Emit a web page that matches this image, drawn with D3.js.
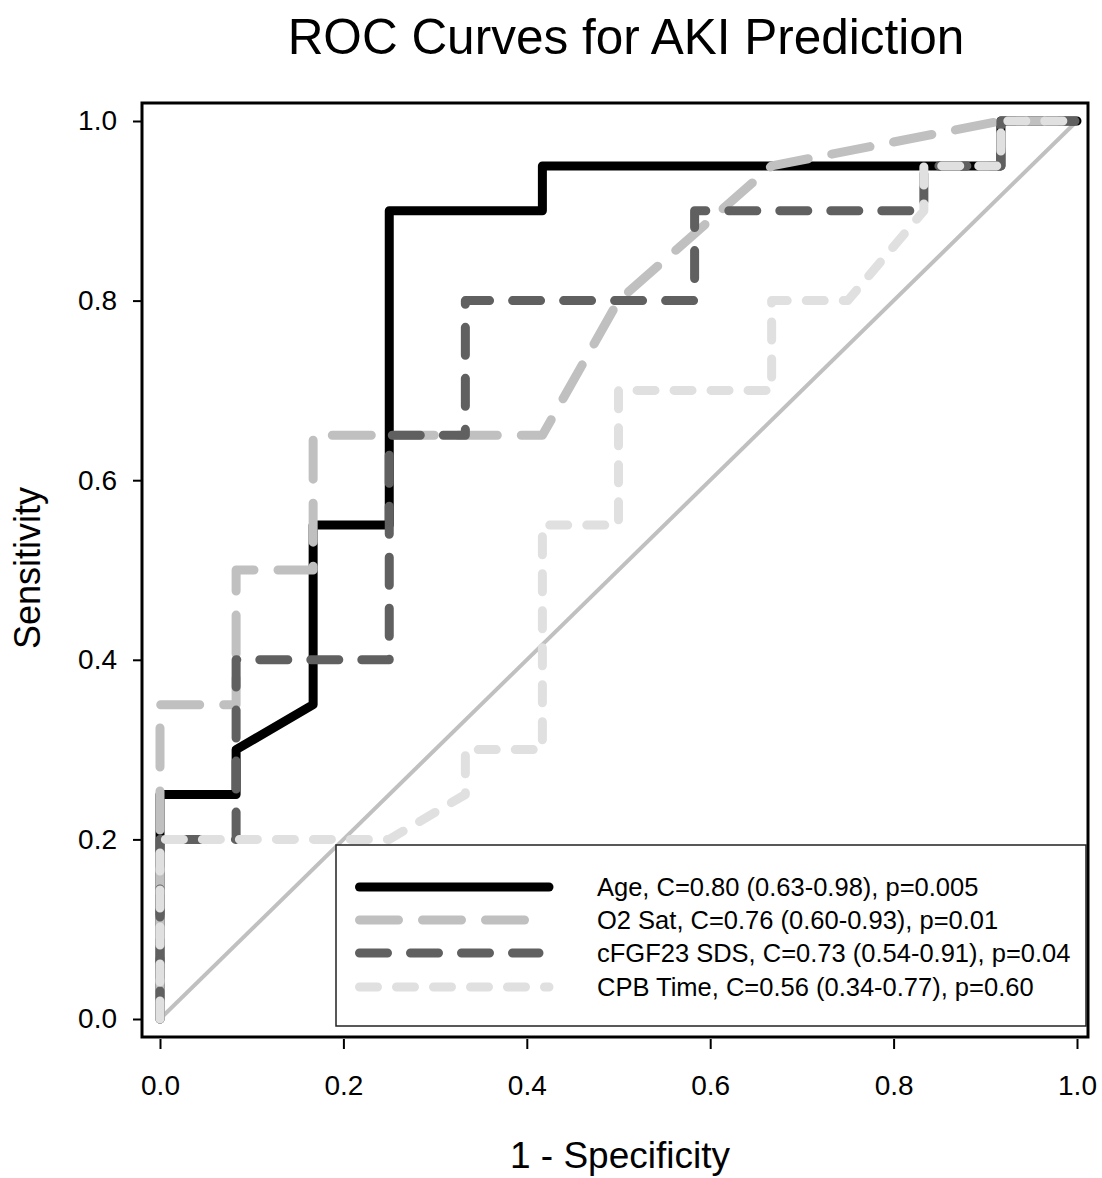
<!DOCTYPE html>
<html>
<head>
<meta charset="utf-8">
<script src="https://cdn.jsdelivr.net/npm/d3@7"></script>
<style>
  body { margin: 0; background: #fff; }
  svg text { font-family: Arial, "Liberation Sans", sans-serif; fill: #000; }
</style>
</head>
<body>
<script>
// ROC points, [1 - specificity, sensitivity]
const ageCurve = [[0, 0], [0, 0.25], [0.083, 0.25], [0.083, 0.3], [0.167, 0.35], [0.167, 0.55],
  [0.25, 0.55], [0.25, 0.9], [0.417, 0.9], [0.417, 0.95], [0.917, 0.95], [0.917, 1], [1, 1]];
const o2Curve = [[0, 0], [0, 0.35], [0.083, 0.35], [0.083, 0.5], [0.167, 0.5], [0.167, 0.65],
  [0.417, 0.65], [0.5, 0.8], [0.667, 0.95], [0.917, 1], [1, 1]];
const fgfCurve = [[0, 0], [0, 0.2], [0.083, 0.2], [0.083, 0.4], [0.25, 0.4], [0.25, 0.65],
  [0.333, 0.65], [0.333, 0.8], [0.583, 0.8], [0.583, 0.9], [0.833, 0.9], [0.833, 0.95],
  [0.917, 0.95], [0.917, 1], [1, 1]];
const cpbCurve = [[0, 0], [0, 0.2], [0.25, 0.2], [0.333, 0.25], [0.333, 0.3], [0.417, 0.3],
  [0.417, 0.55], [0.5, 0.55], [0.5, 0.7], [0.667, 0.7], [0.667, 0.8], [0.75, 0.8],
  [0.833, 0.9], [0.833, 0.95], [0.917, 0.95], [0.917, 1], [1, 1]];
const diagonal = [[0, 0], [1, 1]];

const seriesLabels = [
  'Age, C=0.80 (0.63-0.98), p=0.005',
  'O2 Sat, C=0.76 (0.60-0.93), p=0.01',
  'cFGF23 SDS, C=0.73 (0.54-0.91), p=0.04',
  'CPB Time, C=0.56 (0.34-0.77), p=0.60'
];
const tickValues = [0, 0.2, 0.4, 0.6, 0.8, 1.0];

const w = 1102;
const h = 1178;

// Line styles: colour, dash pattern, legend sample end
const styles = [
  { color: '#000000', dash: null, end: 549 },
  { color: '#c0c0c0', dash: '39,24', end: 526 },
  { color: '#606060', dash: '28,23', end: 539 },
  { color: '#e0e0e0', dash: '18,19', end: 549 }
];
const curves = [ageCurve, o2Curve, fgfCurve, cpbCurve];

const xScale = d3.scaleLinear().domain([0, 1]).range([160, 1077]);
const yScale = d3.scaleLinear().domain([0, 1]).range([1019, 121]);

const svg = d3.select('body').append('svg')
  .attr('width', w)
  .attr('height', h);

// Title
svg.append('text')
  .attr('x', 626)
  .attr('y', 54)
  .attr('text-anchor', 'middle')
  .style('font-size', '49.5px')
  .text('ROC Curves for AKI Prediction');

// Frame
svg.append('rect')
  .attr('x', 142)
  .attr('y', 103)
  .attr('width', 946)
  .attr('height', 934)
  .attr('fill', 'none')
  .attr('stroke', '#000')
  .attr('stroke-width', 3);

const fmt = d3.format('.1f');

const yAxis = d3.axisLeft(yScale)
  .tickValues(tickValues)
  .tickFormat(fmt)
  .tickSizeInner(9)
  .tickSizeOuter(0)
  .tickPadding(16);

const xAxis = d3.axisBottom(xScale)
  .tickValues(tickValues)
  .tickFormat(fmt)
  .tickSizeInner(10)
  .tickSizeOuter(0)
  .tickPadding(26);

const gy = svg.append('g')
  .attr('transform', 'translate(142,0)')
  .call(yAxis);
const gx = svg.append('g')
  .attr('transform', 'translate(0,1039)')
  .call(xAxis);

[gx, gy].forEach(g => {
  g.select('.domain').remove();
  g.selectAll('.tick line').attr('stroke', '#000').attr('stroke-width', 2);
  g.selectAll('.tick text')
    .style('font-size', '28px')
    .style('font-family', 'Arial, "Liberation Sans", sans-serif')
    .attr('fill', '#000');
});

// Axis titles
svg.append('text')
  .attr('x', 620)
  .attr('y', 1168)
  .attr('text-anchor', 'middle')
  .style('font-size', '37px')
  .text('1 - Specificity');

svg.append('text')
  .attr('transform', 'translate(40,568) rotate(-90)')
  .attr('text-anchor', 'middle')
  .style('font-size', '36px')
  .text('Sensitivity');

const line = d3.line()
  .x(d => xScale(d[0]))
  .y(d => yScale(d[1]));

// Reference diagonal
svg.append('path')
  .datum(diagonal)
  .attr('d', line)
  .attr('fill', 'none')
  .attr('stroke', '#c0c0c0')
  .attr('stroke-width', 4);

// ROC curves
curves.forEach((c, i) => {
  svg.append('path')
    .datum(c)
    .attr('d', line)
    .attr('fill', 'none')
    .attr('stroke', styles[i].color)
    .attr('stroke-width', 9)
    .attr('stroke-linecap', 'round')
    .attr('stroke-linejoin', 'round')
    .attr('stroke-dasharray', styles[i].dash);
});

// Legend
const legend = svg.append('g');
legend.append('rect')
  .attr('x', 336)
  .attr('y', 845)
  .attr('width', 750)
  .attr('height', 181)
  .attr('fill', '#fff')
  .attr('stroke', '#222')
  .attr('stroke-width', 1.5);

const rowY = [887, 920, 953, 987];
seriesLabels.forEach((label, i) => {
  legend.append('line')
    .attr('x1', 359.5)
    .attr('x2', styles[i].end)
    .attr('y1', rowY[i])
    .attr('y2', rowY[i])
    .attr('stroke', styles[i].color)
    .attr('stroke-width', 9)
    .attr('stroke-linecap', 'round')
    .attr('stroke-dasharray', styles[i].dash);
  legend.append('text')
    .attr('x', 597)
    .attr('y', rowY[i])
    .attr('dy', '0.36em')
    .style('font-size', '25.5px')
    .text(label);
});
</script>
</body>
</html>
